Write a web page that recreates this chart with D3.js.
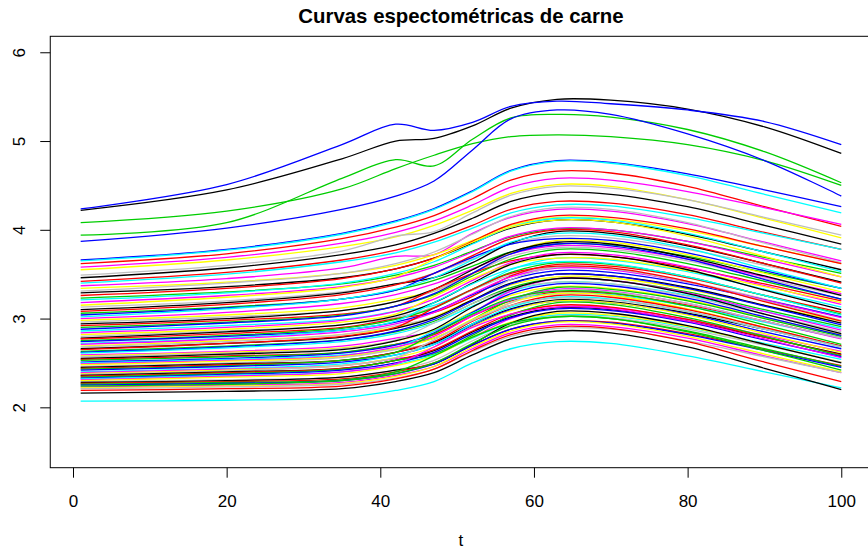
<!DOCTYPE html>
<html>
<head>
<meta charset="utf-8">
<script src="https://cdn.jsdelivr.net/npm/d3@7"></script>
<style>
  body { margin: 0; background: #fff; }
  text { font-family: "Liberation Sans", Arial, Helvetica, sans-serif; }
</style>
</head>
<body>
<svg id="chart" width="868" height="552"></svg>
<script>
// Sampling positions along the spectrum (t) at which each curve is recorded
const tPoints = [1, 20, 35, 42, 47, 52, 57, 63, 70, 80, 90, 100];
const xTicks = [0, 20, 40, 60, 80, 100];
const yTicks = [2, 3, 4, 5, 6];
// R's default palette, cycled over the curves in order
const palette = ["#000000", "#FF0000", "#00CD00", "#0000FF", "#00FFFF", "#FF00FF", "#FFFF00", "#BEBEBE"];

// Absorbance of each meat sample at tPoints
const absorbance = [
  [4.22, 4.45, 4.80, 5.00, 5.03, 5.17, 5.37, 5.47, 5.46, 5.36, 5.16, 4.86],
  [3.62, 3.73, 3.90, 4.03, 4.16, 4.35, 4.56, 4.66, 4.64, 4.49, 4.26, 4.04],
  [4.08, 4.21, 4.46, 4.69, 4.84, 4.97, 5.05, 5.07, 5.05, 4.96, 4.78, 4.50],
  [3.66, 3.78, 3.96, 4.10, 4.24, 4.44, 4.67, 4.78, 4.76, 4.63, 4.45, 4.26],
  [3.65, 3.77, 3.95, 4.09, 4.23, 4.43, 4.66, 4.77, 4.75, 4.61, 4.40, 4.19],
  [3.58, 3.69, 3.85, 3.97, 4.10, 4.28, 4.48, 4.58, 4.56, 4.43, 4.25, 4.06],
  [3.55, 3.66, 3.81, 3.92, 4.05, 4.22, 4.41, 4.51, 4.49, 4.34, 4.13, 3.91],
  [3.49, 3.60, 3.76, 3.93, 3.98, 4.19, 4.39, 4.49, 4.47, 4.34, 4.14, 3.94],
  [3.46, 3.57, 3.72, 3.83, 3.96, 4.13, 4.32, 4.42, 4.40, 4.26, 4.05, 3.84],
  [3.42, 3.52, 3.66, 3.77, 3.89, 4.05, 4.23, 4.32, 4.30, 4.17, 3.97, 3.78],
  [3.94, 4.08, 4.58, 4.79, 4.72, 5.02, 5.26, 5.30, 5.27, 5.13, 4.88, 4.53],
  [3.87, 4.02, 4.23, 4.38, 4.55, 4.90, 5.25, 5.35, 5.30, 5.08, 4.78, 4.38],
  [3.40, 3.50, 3.64, 3.74, 3.86, 4.02, 4.19, 4.28, 4.27, 4.14, 3.96, 3.78],
  [3.37, 3.45, 3.57, 3.70, 3.72, 3.96, 4.14, 4.23, 4.21, 4.07, 3.86, 3.65],
  [3.34, 3.41, 3.51, 3.60, 3.72, 3.88, 4.05, 4.14, 4.12, 3.99, 3.81, 3.62],
  [3.31, 3.40, 3.51, 3.62, 3.75, 3.95, 4.15, 4.25, 4.23, 4.08, 3.85, 3.63],
  [3.29, 3.36, 3.46, 3.56, 3.68, 3.85, 4.02, 4.11, 4.09, 3.95, 3.75, 3.55],
  [3.26, 3.34, 3.45, 3.56, 3.68, 3.87, 4.06, 4.16, 4.14, 4.01, 3.81, 3.62],
  [3.23, 3.30, 3.39, 3.49, 3.60, 3.76, 3.92, 4.01, 4.00, 3.87, 3.69, 3.51],
  [4.235, 4.51, 4.96, 5.19, 5.12, 5.21, 5.39, 5.45, 5.42, 5.35, 5.22, 4.96],
  [3.21, 3.29, 3.40, 3.51, 3.64, 3.84, 4.03, 4.13, 4.11, 3.96, 3.75, 3.53],
  [3.18, 3.26, 3.36, 3.46, 3.58, 3.75, 3.93, 4.02, 4.00, 3.87, 3.67, 3.47],
  [3.15, 3.24, 3.35, 3.47, 3.67, 3.86, 4.03, 4.11, 4.09, 3.93, 3.70, 3.47],
  [3.13, 3.20, 3.30, 3.39, 3.51, 3.67, 3.84, 3.93, 3.91, 3.78, 3.60, 3.41],
  [3.10, 3.18, 3.29, 3.39, 3.46, 3.63, 3.85, 3.98, 3.96, 3.82, 3.62, 3.41],
  [3.08, 3.16, 3.27, 3.38, 3.51, 3.71, 3.90, 4.00, 3.98, 3.83, 3.62, 3.40],
  [3.06, 3.13, 3.22, 3.32, 3.43, 3.59, 3.75, 3.84, 3.83, 3.70, 3.52, 3.34],
  [3.04, 3.12, 3.22, 3.32, 3.51, 3.69, 3.84, 3.90, 3.88, 3.74, 3.54, 3.34],
  [3.02, 3.11, 3.22, 3.33, 3.46, 3.66, 3.86, 3.96, 3.94, 3.79, 3.56, 3.34],
  [3.00, 3.07, 3.17, 3.27, 3.39, 3.56, 3.73, 3.82, 3.80, 3.67, 3.47, 3.28],
  [2.98, 3.04, 3.12, 3.22, 3.31, 3.50, 3.74, 3.88, 3.86, 3.72, 3.51, 3.30],
  [2.96, 3.02, 3.09, 3.19, 3.31, 3.51, 3.70, 3.80, 3.78, 3.65, 3.45, 3.26],
  [2.94, 3.00, 3.09, 3.19, 3.33, 3.55, 3.75, 3.86, 3.84, 3.69, 3.48, 3.26],
  [2.92, 2.98, 3.05, 3.14, 3.33, 3.51, 3.65, 3.72, 3.70, 3.57, 3.39, 3.20],
  [2.90, 2.96, 3.04, 3.14, 3.27, 3.48, 3.67, 3.78, 3.76, 3.62, 3.42, 3.22],
  [2.88, 2.95, 3.03, 3.14, 3.28, 3.51, 3.73, 3.84, 3.82, 3.67, 3.44, 3.22],
  [2.86, 2.92, 2.99, 3.08, 3.15, 3.33, 3.55, 3.68, 3.66, 3.53, 3.33, 3.13],
  [2.84, 2.90, 2.98, 3.08, 3.22, 3.43, 3.63, 3.74, 3.72, 3.58, 3.37, 3.16],
  [2.82, 2.88, 2.96, 3.05, 3.25, 3.45, 3.61, 3.68, 3.67, 3.54, 3.36, 3.18],
  [2.80, 2.86, 2.93, 3.01, 3.13, 3.32, 3.49, 3.58, 3.56, 3.42, 3.22, 3.02],
  [2.78, 2.85, 2.93, 3.03, 3.18, 3.40, 3.61, 3.72, 3.70, 3.55, 3.32, 3.10],
  [2.77, 2.83, 2.90, 3.00, 3.07, 3.25, 3.48, 3.61, 3.59, 3.46, 3.26, 3.07],
  [2.75, 2.81, 2.89, 2.99, 3.12, 3.33, 3.52, 3.63, 3.61, 3.47, 3.26, 3.05],
  [2.74, 2.80, 2.87, 2.96, 3.08, 3.27, 3.44, 3.54, 3.52, 3.39, 3.21, 3.02],
  [2.72, 2.78, 2.87, 2.97, 3.18, 3.39, 3.56, 3.64, 3.62, 3.47, 3.26, 3.04],
  [2.71, 2.77, 2.85, 2.94, 3.07, 3.28, 3.47, 3.57, 3.55, 3.41, 3.21, 3.01],
  [2.69, 2.75, 2.82, 2.90, 3.02, 3.21, 3.38, 3.47, 3.46, 3.33, 3.15, 2.97],
  [2.68, 2.74, 2.82, 2.92, 3.01, 3.20, 3.44, 3.58, 3.56, 3.41, 3.20, 2.98],
  [2.66, 2.72, 2.79, 2.89, 3.01, 3.21, 3.40, 3.50, 3.48, 3.35, 3.15, 2.95],
  [2.65, 2.72, 2.80, 2.90, 3.12, 3.33, 3.51, 3.59, 3.57, 3.42, 3.19, 2.97],
  [2.63, 2.69, 2.76, 2.85, 2.97, 3.17, 3.35, 3.45, 3.43, 3.30, 3.10, 2.91],
  [2.62, 2.68, 2.76, 2.86, 2.99, 3.20, 3.39, 3.50, 3.48, 3.34, 3.14, 2.93],
  [2.61, 2.67, 2.74, 2.83, 2.95, 3.14, 3.31, 3.41, 3.39, 3.26, 3.08, 2.89],
  [2.59, 2.63, 2.69, 2.78, 2.86, 3.07, 3.31, 3.45, 3.43, 3.29, 3.08, 2.87],
  [2.58, 2.62, 2.67, 2.75, 2.87, 3.08, 3.26, 3.36, 3.34, 3.21, 3.01, 2.82],
  [2.57, 2.61, 2.66, 2.76, 2.95, 3.17, 3.33, 3.41, 3.39, 3.25, 3.05, 2.85],
  [2.55, 2.60, 2.65, 2.75, 2.88, 3.13, 3.33, 3.45, 3.43, 3.28, 3.05, 2.83],
  [2.54, 2.58, 2.62, 2.71, 2.82, 3.03, 3.20, 3.30, 3.28, 3.15, 2.97, 2.78],
  [2.53, 2.57, 2.62, 2.71, 2.78, 2.99, 3.21, 3.35, 3.33, 3.20, 3.00, 2.80],
  [2.51, 2.55, 2.61, 2.70, 2.84, 3.07, 3.28, 3.39, 3.37, 3.23, 3.02, 2.81],
  [2.50, 2.54, 2.59, 2.67, 2.86, 3.06, 3.21, 3.28, 3.27, 3.14, 2.96, 2.78],
  [2.49, 2.53, 2.58, 2.68, 2.80, 3.03, 3.22, 3.33, 3.31, 3.17, 2.97, 2.77],
  [2.48, 2.52, 2.57, 2.66, 2.78, 2.99, 3.18, 3.28, 3.26, 3.11, 2.90, 2.68],
  [2.46, 2.50, 2.56, 2.65, 2.73, 2.94, 3.18, 3.32, 3.30, 3.17, 2.97, 2.78],
  [2.45, 2.49, 2.53, 2.62, 2.73, 2.94, 3.11, 3.21, 3.19, 3.06, 2.88, 2.69],
  [2.44, 2.48, 2.53, 2.62, 2.74, 2.97, 3.15, 3.26, 3.24, 3.10, 2.90, 2.69],
  [2.43, 2.47, 2.53, 2.62, 2.83, 3.05, 3.23, 3.31, 3.29, 3.14, 2.93, 2.71],
  [2.42, 2.46, 2.51, 2.59, 2.71, 2.92, 3.10, 3.20, 3.18, 3.05, 2.85, 2.66],
  [2.40, 2.44, 2.49, 2.59, 2.71, 2.94, 3.13, 3.24, 3.22, 3.08, 2.88, 2.68],
  [2.39, 2.43, 2.47, 2.55, 2.61, 2.79, 3.00, 3.13, 3.12, 2.99, 2.81, 2.63],
  [2.38, 2.42, 2.47, 2.56, 2.68, 2.91, 3.09, 3.20, 3.18, 3.04, 2.83, 2.62],
  [2.37, 2.41, 2.47, 2.56, 2.76, 2.98, 3.15, 3.23, 3.21, 3.08, 2.88, 2.68],
  [2.36, 2.40, 2.44, 2.53, 2.64, 2.85, 3.02, 3.12, 3.10, 2.97, 2.79, 2.60],
  [2.35, 2.39, 2.44, 2.53, 2.65, 2.86, 3.05, 3.15, 3.13, 2.99, 2.79, 2.59],
  [2.34, 2.38, 2.43, 2.53, 2.60, 2.81, 3.04, 3.18, 3.16, 3.01, 2.80, 2.58],
  [2.33, 2.37, 2.42, 2.50, 2.62, 2.83, 3.01, 3.11, 3.09, 2.96, 2.76, 2.57],
  [2.32, 2.36, 2.40, 2.48, 2.59, 2.78, 2.95, 3.04, 3.03, 2.90, 2.72, 2.54],
  [2.31, 2.35, 2.40, 2.49, 2.68, 2.90, 3.05, 3.13, 3.11, 2.97, 2.77, 2.56],
  [2.30, 2.34, 2.38, 2.47, 2.58, 2.79, 2.96, 3.06, 3.04, 2.91, 2.71, 2.51],
  [2.29, 2.31, 2.34, 2.42, 2.53, 2.75, 2.93, 3.03, 3.01, 2.88, 2.70, 2.51],
  [2.28, 2.30, 2.34, 2.42, 2.49, 2.71, 2.95, 3.08, 3.06, 2.92, 2.71, 2.50],
  [2.27, 2.29, 2.32, 2.40, 2.50, 2.70, 2.88, 2.97, 2.96, 2.83, 2.65, 2.47],
  [2.26, 2.28, 2.31, 2.40, 2.58, 2.79, 2.95, 3.02, 3.00, 2.86, 2.66, 2.46],
  [2.25, 2.27, 2.30, 2.38, 2.49, 2.70, 2.88, 2.97, 2.95, 2.82, 2.64, 2.45],
  [2.07, 2.08, 2.11, 2.19, 2.29, 2.50, 2.66, 2.74, 2.72, 2.58, 2.40, 2.22],
  [2.23, 2.25, 2.28, 2.36, 2.46, 2.66, 2.84, 2.93, 2.91, 2.78, 2.58, 2.39],
  [2.22, 2.24, 2.27, 2.35, 2.46, 2.68, 2.86, 2.96, 2.94, 2.80, 2.60, 2.40],
  [2.21, 2.23, 2.26, 2.33, 2.43, 2.63, 2.80, 2.89, 2.88, 2.75, 2.57, 2.39],
  [2.16, 2.18, 2.21, 2.29, 2.39, 2.59, 2.77, 2.86, 2.84, 2.68, 2.44, 2.20],
  [2.19, 2.21, 2.24, 2.32, 2.43, 2.64, 2.82, 2.91, 2.89, 2.74, 2.51, 2.29],
  [2.24, 2.26, 2.30, 2.38, 2.50, 2.72, 2.92, 3.02, 3.00, 2.85, 2.64, 2.42]
];

const svg = d3.select("#chart");
const plot = { left: 50.26, right: 871.7, top: 36.3, bottom: 467.7 };

// R-style 4% padding around xlim = c(1, 100) and ylim = c(1.5, 6)
const x = d3.scaleLinear().domain([-2.96, 103.96]).range([plot.left, plot.right]);
const y = d3.scaleLinear().domain([1.32, 6.18]).range([plot.bottom, plot.top]);

svg.append("defs").append("clipPath").attr("id", "plot-clip")
  .append("rect")
  .attr("x", plot.left).attr("y", plot.top)
  .attr("width", plot.right - plot.left).attr("height", plot.bottom - plot.top);

const line = d3.line()
  .x((d, i) => x(tPoints[i]))
  .y(d => y(d))
  .curve(d3.curveCatmullRom.alpha(0.5));

svg.append("g").attr("clip-path", "url(#plot-clip)")
  .selectAll("path")
  .data(absorbance)
  .join("path")
  .attr("d", line)
  .attr("fill", "none")
  .attr("stroke", (d, i) => palette[i % palette.length])
  .attr("stroke-width", 1.3);

// Frame around the plotting region
svg.append("rect")
  .attr("x", plot.left).attr("y", plot.top)
  .attr("width", plot.right - plot.left).attr("height", plot.bottom - plot.top)
  .attr("fill", "none").attr("stroke", "#000").attr("stroke-width", 1);

// x axis
const xAxis = svg.append("g")
  .attr("transform", `translate(0,${plot.bottom})`)
  .call(d3.axisBottom(x).tickValues(xTicks).tickSize(10).tickFormat(d3.format("d")));
xAxis.select(".domain").remove();
xAxis.selectAll(".tick line").attr("stroke", "#000");
xAxis.selectAll(".tick text")
  .attr("y", 39).attr("dy", 0)
  .attr("fill", "#000")
  .style("font-size", "17px")
  .style("font-family", "'Liberation Sans', Arial, sans-serif");

// y axis with labels parallel to the axis
const yAxis = svg.append("g")
  .attr("transform", `translate(${plot.left},0)`)
  .call(d3.axisLeft(y).tickValues(yTicks).tickSize(10).tickFormat(d3.format("d")));
yAxis.select(".domain").remove();
yAxis.selectAll(".tick line").attr("stroke", "#000");
yAxis.selectAll(".tick text")
  .attr("x", 0).attr("y", 0).attr("dy", 0)
  .attr("transform", "translate(-25.3,0) rotate(-90)")
  .attr("text-anchor", "middle")
  .attr("fill", "#000")
  .style("font-size", "17px")
  .style("font-family", "'Liberation Sans', Arial, sans-serif");

// Title and axis label
svg.append("text")
  .attr("x", (plot.left + plot.right) / 2).attr("y", 22.7)
  .attr("text-anchor", "middle")
  .style("font-size", "20.4px").style("font-weight", "bold")
  .text("Curvas espectométricas de carne");

svg.append("text")
  .attr("x", (plot.left + plot.right) / 2).attr("y", 546)
  .attr("text-anchor", "middle")
  .style("font-size", "17px")
  .text("t");
</script>
</body>
</html>
